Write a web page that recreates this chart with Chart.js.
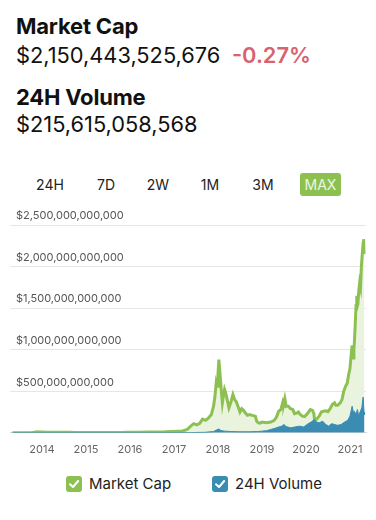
<!DOCTYPE html>
<html>
<head>
<meta charset="utf-8">
<script src="https://cdn.jsdelivr.net/npm/chart.js@4/dist/chart.umd.min.js"></script>
<style>
  html, body { margin: 0; padding: 0; background: #fff; }
  body { width: 376px; height: 520px; position: relative; overflow: hidden;
         font-family: Inter, "Noto Sans", sans-serif; color: #111; }
  .abs { position: absolute; white-space: nowrap; }
  .title { font-weight: 700; font-size: 22px; letter-spacing: -0.2px; }
  .value { font-size: 21.8px; letter-spacing: 0px; }
  .change { color: #d8636f; font-weight: 600; }
  .tab { font-size: 14px; color: #222; transform: translateX(-50%); top: 176px; }
  .tab-on { position: absolute; left: 300px; top: 173px; width: 41px; height: 23px; border-radius: 3px;
            background: #8cc152; color: #eef6e4; font-size: 14px; text-align: center; line-height: 23px; }
  #chartBox { position: absolute; left: 0; top: 199px; width: 376px; height: 259px; }
  .legend { position: absolute; top: 474px; font-size: 15px; color: #222; display: flex; align-items: center; }
  .check { width: 16px; height: 16px; border-radius: 3px; margin-right: 7px; position: relative; }
  .check svg { position: absolute; left: 0; top: 0; }
</style>
</head>
<body>
<div class="abs title" style="left:16px; top:13px;">Market Cap</div>
<div class="abs value" style="left:16px; top:42px;">$2,150,443,525,676 <span class="change">&nbsp;-0.27%</span></div>
<div class="abs title" style="left:16px; top:84px;">24H Volume</div>
<div class="abs value" style="left:16px; top:111px;">$215,615,058,568</div>

<div id="tabs"></div>

<div id="chartBox"><canvas id="chart"></canvas></div>

<div id="legend"></div>

<script>
// ranges shown in the tab row; the last one is the active one
const rangeTabs = ['24H', '7D', '2W', '1M', '3M', 'MAX'];

// market cap, billions of USD, keyed by decimal year
const capDates = [
  2013.33, 2013.5, 2013.75, 2013.9, 2013.95, 2014.0, 2014.1, 2014.25, 2014.4, 2014.6, 2014.8,
  2015.0, 2015.2, 2015.4, 2015.6, 2015.8, 2015.95, 2016.2, 2016.45, 2016.6, 2016.8,
  2017.0, 2017.1, 2017.2, 2017.3, 2017.38, 2017.45, 2017.52, 2017.58, 2017.65, 2017.72, 2017.78,
  2017.85, 2017.9, 2017.93, 2017.96, 2017.98, 2018.0, 2018.02, 2018.04, 2018.06, 2018.08, 2018.1,
  2018.12, 2018.15, 2018.18, 2018.21, 2018.25, 2018.3, 2018.34, 2018.38, 2018.42, 2018.46, 2018.5,
  2018.54, 2018.58, 2018.62, 2018.67, 2018.72, 2018.78, 2018.85, 2018.88, 2018.92, 2018.96,
  2019.0, 2019.1, 2019.2, 2019.28, 2019.33, 2019.38, 2019.43, 2019.48, 2019.5, 2019.52, 2019.55,
  2019.6, 2019.65, 2019.7, 2019.74, 2019.8, 2019.83, 2019.87, 2019.92, 2019.97,
  2020.03, 2020.1, 2020.15, 2020.18, 2020.2, 2020.25, 2020.3, 2020.35, 2020.4, 2020.45, 2020.5,
  2020.55, 2020.6, 2020.65, 2020.68, 2020.72, 2020.78, 2020.82, 2020.86, 2020.9, 2020.94, 2020.97,
  2021.0, 2021.03, 2021.05, 2021.07, 2021.09, 2021.1, 2021.12, 2021.14, 2021.15, 2021.16, 2021.18,
  2021.2, 2021.22, 2021.24, 2021.26, 2021.28, 2021.3, 2021.31, 2021.32, 2021.33
];
const capValues = [
  1.5, 1.1, 2, 13, 10, 10, 8, 6, 7.5, 7, 5,
  4.5, 3.5, 3.5, 4, 4.5, 6.5, 7, 10, 11, 12,
  17, 19, 22, 40, 80, 110, 95, 110, 165, 150, 175,
  220, 320, 430, 600, 560, 700, 880, 760, 620, 480, 360,
  430, 520, 470, 400, 300, 380, 460, 400, 370, 310, 250,
  290, 270, 240, 210, 220, 210, 200, 140, 120, 115,
  130, 120, 130, 150, 190, 260, 280, 380, 360, 410, 320,
  320, 290, 280, 230, 240, 250, 220, 200, 195,
  230, 280, 270, 230, 140, 170, 200, 250, 260, 265, 255,
  290, 340, 360, 330, 330, 360, 400, 500, 560, 600, 700,
  770, 950, 1050, 900, 1000, 1080, 1300, 1550, 1650, 1500, 1550,
  1700, 1800, 1750, 2000, 2150, 2280, 2330, 2150, 2150
];

// 24h volume, billions of USD
const volDates = [
  2013.33, 2014.0, 2015.0, 2016.0, 2017.0, 2017.4, 2017.7, 2017.9, 2017.97, 2018.02, 2018.06,
  2018.1, 2018.15, 2018.3, 2018.5, 2018.7, 2018.9, 2019.0, 2019.1, 2019.2, 2019.3, 2019.38,
  2019.45, 2019.5, 2019.55, 2019.65, 2019.75, 2019.85, 2019.95, 2020.05, 2020.12, 2020.19,
  2020.23, 2020.3, 2020.38, 2020.45, 2020.52, 2020.58, 2020.65, 2020.72, 2020.8, 2020.88,
  2020.95, 2021.0, 2021.05, 2021.08, 2021.1, 2021.14, 2021.17, 2021.2, 2021.23, 2021.27,
  2021.3, 2021.32, 2021.33
];
const volValues = [
  0, 0.1, 0.1, 0.1, 0.5, 3, 6, 15, 35, 45, 30,
  25, 20, 15, 12, 12, 15, 20, 25, 40, 55, 70,
  80, 100, 75, 60, 70, 80, 70, 110, 130, 160,
  130, 120, 140, 100, 80, 110, 100, 90, 100, 130,
  150, 200, 320, 240, 260, 220, 280, 200, 250, 300,
  430, 250, 215
];

const yearTicks = [2014, 2015, 2016, 2017, 2018, 2019, 2020, 2021];
const capTicks = [0, 500, 1000, 1500, 2000, 2500];

const GREEN = '#8cc152';
const BLUE = '#3a8cb3';

// tabs
const tabX = [50, 106, 158, 210, 263];
const tabsEl = document.getElementById('tabs');
rangeTabs.forEach((t, i) => {
  const el = document.createElement('div');
  if (i === rangeTabs.length - 1) {
    el.className = 'tab-on';
  } else {
    el.className = 'abs tab';
    el.style.left = tabX[i] + 'px';
  }
  el.textContent = t;
  tabsEl.appendChild(el);
});

// legend with check boxes
const legendItems = [
  { label: 'Market Cap', color: GREEN, left: 66 },
  { label: '24H Volume', color: BLUE, left: 212 }
];
const legendEl = document.getElementById('legend');
legendItems.forEach(item => {
  const row = document.createElement('div');
  row.className = 'legend';
  row.style.left = item.left + 'px';
  row.innerHTML = '<span class="check" style="background:' + item.color + '">' +
    '<svg width="16" height="16"><path d="M4 8.3 L7 11 L12.2 5" fill="none" stroke="#fff" stroke-width="2" stroke-linecap="round" stroke-linejoin="round"/></svg>' +
    '</span>' + item.label;
  legendEl.appendChild(row);
});

const toPoints = (xs, ys) => xs.map((x, i) => ({ x, y: ys[i] * 1e9 }));
const money = v => '$' + Math.round(v).toLocaleString('en-US');

new Chart(document.getElementById('chart').getContext('2d'), {
  type: 'line',
  data: {
    datasets: [
      {
        label: '24H Volume',
        data: toPoints(volDates, volValues),
        borderColor: BLUE, borderWidth: 1, backgroundColor: BLUE,
        fill: 'origin', pointRadius: 0, tension: 0
      },
      {
        label: 'Market Cap',
        data: toPoints(capDates, capValues),
        borderColor: GREEN, borderWidth: 3, backgroundColor: '#eaf3dd',
        fill: 'origin', pointRadius: 0, tension: 0
      }
    ]
  },
  options: {
    responsive: true, maintainAspectRatio: false, animation: false,
    layout: { padding: { left: 10, right: 10, top: 26, bottom: 0 } },
    plugins: { legend: { display: false }, tooltip: { enabled: false } },
    scales: {
      x: {
        type: 'linear', min: 2013.273, max: 2021.365,
        afterBuildTicks: axis => { axis.ticks = yearTicks.map(v => ({ value: v })); },
        ticks: { color: '#666', font: { family: 'Inter', size: 11 }, padding: 2, maxRotation: 0,
                  callback: v => String(v) },
        grid: { display: false },
        border: { display: true, color: '#d6d6d6', width: 1 }
      },
      y: {
        min: 0, max: 2.5e12,
        afterBuildTicks: axis => { axis.ticks = capTicks.map(v => ({ value: v * 1e9 })); },
        // labels sit inside the plot, so the axis takes no room of its own
        afterFit: axis => { axis.width = 0; },
        ticks: {
          mirror: true, padding: 6, labelOffset: -9, color: '#555',
          font: { family: 'Inter', size: 11 },
          callback: v => v === 0 ? '' : money(v)
        },
        grid: { color: '#e6e6e6', drawTicks: false, lineWidth: 1 },
        border: { display: false }
      }
    }
  }
});
</script>
</body>
</html>
